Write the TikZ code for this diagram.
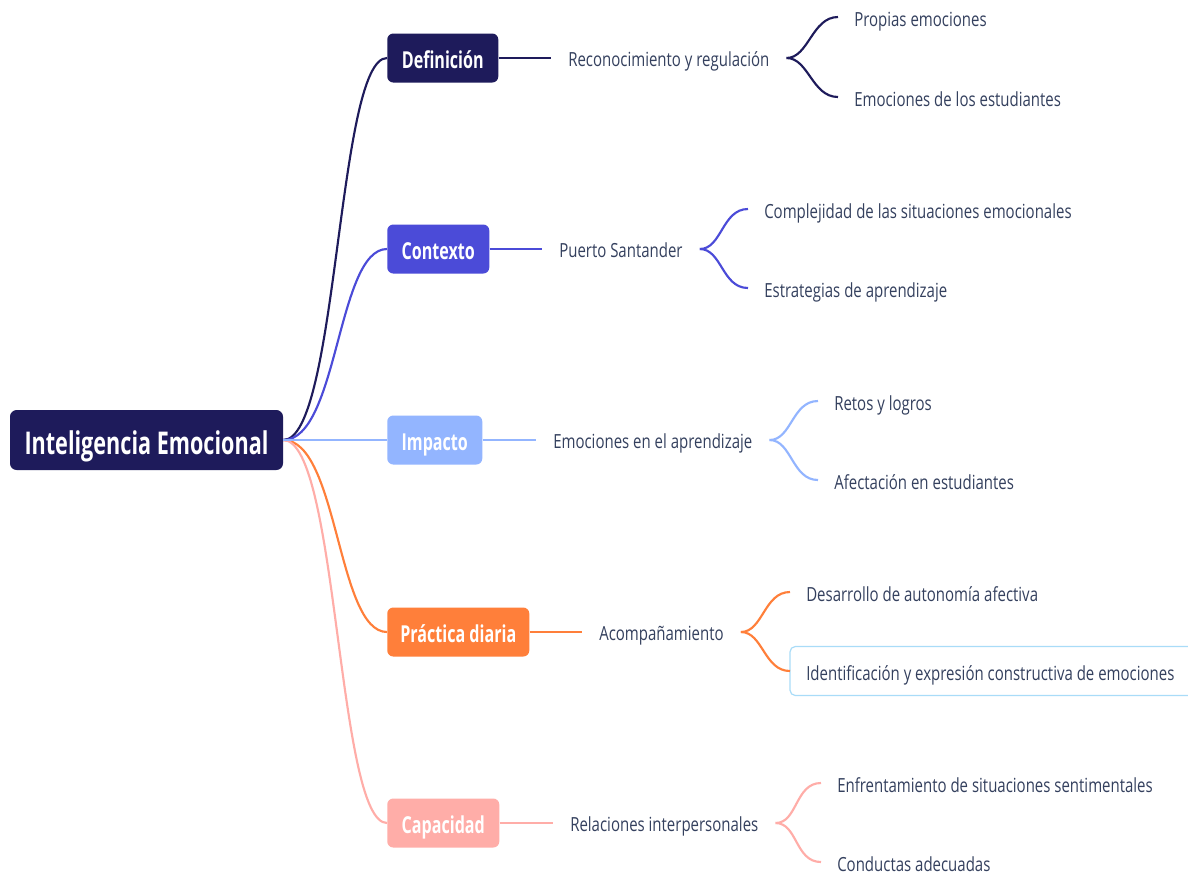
\documentclass[tikz,border=0pt]{standalone}
\usepackage{fontspec}
\usetikzlibrary{calc}
\setmainfont{Open Sans}[FakeStretch=0.77]
\newfontfamily\headfont{Open Sans}[FakeStretch=0.69]
\definecolor{cdef}{HTML}{1E1B5B}
\definecolor{cctx}{HTML}{4B4BD8}
\definecolor{cimp}{HTML}{93B5FF}
\definecolor{cpra}{HTML}{FF7F3A}
\definecolor{ccap}{HTML}{FFADA8}
\definecolor{ctxt}{HTML}{34405E}
\definecolor{cbox}{HTML}{A9DCF8}
\tikzset{
  x=0.75pt, y=-0.75pt,
  rootbox/.style={fill=cdef, text=white, rounded corners=5pt, inner sep=0pt,
    minimum width=273*0.75pt, minimum height=60*0.75pt,
    text height=21.8pt, text depth=0pt,
    font=\headfont\bfseries\fontsize{23.5}{26}\selectfont},
  mainbox/.style={fill=#1, text=white, rounded corners=4.5pt, inner sep=0pt,
    minimum height=49*0.75pt, anchor=west,
    text height=16.3pt, text depth=0pt,
    font=\headfont\bfseries\fontsize{17.5}{20}\selectfont},
  subtopic/.style={text=ctxt, anchor=west, inner xsep=17*0.75pt, inner ysep=2pt,
    text height=12.4pt, text depth=0pt,
    font=\fontsize{14.6}{17}\selectfont},
  leaf/.style={text=ctxt, anchor=west, inner xsep=16*0.75pt, inner ysep=2pt,
    text height=14.6pt, text depth=0pt,
    font=\fontsize{14.6}{17}\selectfont},
  link/.style={draw=#1, line width=1.6pt},
  fork/.style={draw=#1, line width=1.6pt},
}
\begin{document}
\begin{tikzpicture}
\useasboundingbox[fill=white] (0,0) rectangle (1188,876);

% central topic
\node[rootbox] (root) at (146.5,440) {Inteligencia Emocional};

% main branches
\node[mainbox=cdef, minimum width=111*0.75pt] (def) at (387,58) {Definición};
\node[mainbox=cctx, minimum width=102*0.75pt] (ctx) at (387,249) {Contexto};
\node[mainbox=cimp, minimum width=95*0.75pt]  (imp) at (387,440) {Impacto};
\node[mainbox=cpra, minimum width=142*0.75pt] (pra) at (387,632) {Práctica diaria};
\node[mainbox=ccap, minimum width=112*0.75pt] (cap) at (387,823) {Capacidad};

% curved links from the central topic
\foreach \b/\c in {def/cdef, ctx/cctx, pra/cpra, cap/ccap}
  \draw[link=\c] (root.east) .. controls +(55,0) and +(-50,0) .. (\b.west);
\draw[link=cimp] (root.east) -- (imp.west);

% second level
\node[subtopic] (def1) at (551,58)  {Reconocimiento y regulación};
\node[subtopic] (ctx1) at (542,249) {Puerto Santander};
\node[subtopic] (imp1) at (536,440) {Emociones en el aprendizaje};
\node[subtopic] (pra1) at (582,632) {Acompañamiento};
\node[subtopic] (cap1) at (553,823) {Relaciones interpersonales};

\draw[link=cdef] (def.east) -- (def1.west);
\draw[link=cctx] (ctx.east) -- (ctx1.west);
\draw[link=cimp] (imp.east) -- (imp1.west);
\draw[link=cpra] (pra.east) -- (pra1.west);
\draw[link=ccap] (cap.east) -- (cap1.west);

% leaves
\node[leaf] (def1a) at (838,17)  {Propias emociones};
\node[leaf] (def1b) at (838,97)  {Emociones de los estudiantes};
\node[leaf] (ctx1a) at (748,209) {Complejidad de las situaciones emocionales};
\node[leaf] (ctx1b) at (748,288) {Estrategias de aprendizaje};
\node[leaf] (imp1a) at (818,401) {Retos y logros};
\node[leaf] (imp1b) at (818,480) {Afectación en estudiantes};
\node[leaf] (pra1a) at (790,592) {Desarrollo de autonomía afectiva};
\node[leaf] (pra1b) at (790,671) {Identificación y expresión constructiva de emociones};
\node[leaf] (cap1a) at (821,783) {Enfrentamiento de situaciones sentimentales};
\node[leaf] (cap1b) at (821,862) {Conductas adecuadas};

% highlighted leaf frame
\draw[cbox, line width=0.9pt, rounded corners=4pt]
  ($(pra1b.west)+(0,-24.5)$) rectangle ($(pra1b.west)+(410,24.5)$);

% forks
\foreach \s/\a/\b/\c in {def1/def1a/def1b/cdef, ctx1/ctx1a/ctx1b/cctx,
                         imp1/imp1a/imp1b/cimp, pra1/pra1a/pra1b/cpra,
                         cap1/cap1a/cap1b/ccap} {
  \draw[fork=\c] (\s.east) .. controls +(22,0) and +(-26,0) .. (\a.west);
  \draw[fork=\c] (\s.east) .. controls +(22,0) and +(-26,0) .. (\b.west);
}
\end{tikzpicture}
\end{document}
